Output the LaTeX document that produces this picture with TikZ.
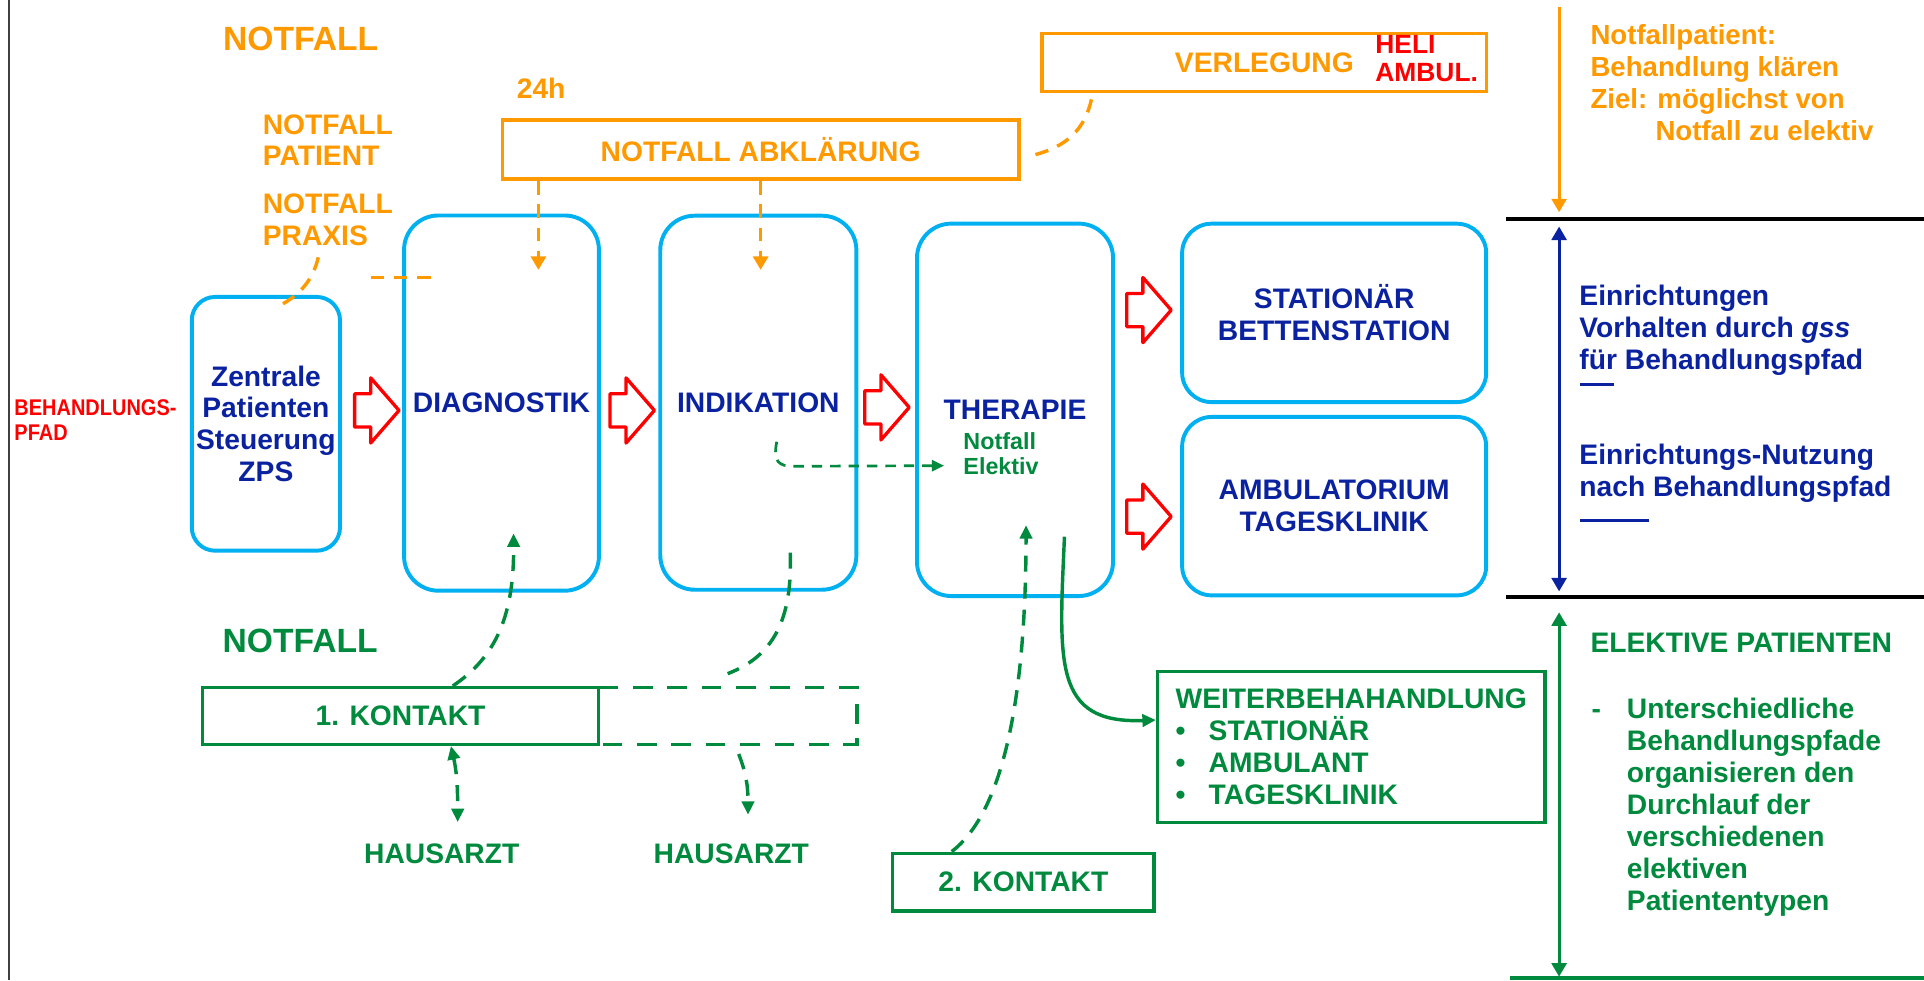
\documentclass[tikz,border=0pt]{standalone}
\usepackage{fontspec}
\setmainfont{Liberation Sans}
\newfontfamily\narrowsf{Liberation Sans}[FakeStretch=0.88]
\usetikzlibrary{shapes.arrows,arrows.meta}
\definecolor{oran}{HTML}{FF9900}
\definecolor{cyanb}{HTML}{00B0F0}
\definecolor{dblue}{HTML}{0A22A0}
\definecolor{grn}{HTML}{008A3E}
\newcommand\ftmain{\bfseries\fontsize{23}{26}\selectfont}
\newcommand\ftbig{\bfseries\fontsize{27.4}{30}\selectfont}
\newcommand\ftsmall{\bfseries\fontsize{19}{21}\selectfont}
\newcommand\fthel{\bfseries\fontsize{21.5}{22.8}\selectfont}
\newcommand\ftbeh{\narrowsf\bfseries\fontsize{18.5}{20}\selectfont}
\newcommand\ftright{\bfseries\fontsize{22.5}{26}\selectfont}
\begin{document}
\begin{tikzpicture}[x=1pt,y=-1pt,
  cbox/.style={draw=cyanb, line width=3.2pt, text=dblue, align=center, inner sep=0pt, font=\ftmain},
  obox/.style={draw=oran, line width=3pt, text=oran, inner sep=0pt, font=\ftmain},
  gbox/.style={draw=grn, line width=2.8pt, text=grn, inner sep=0pt, font=\ftmain},
  txt/.style={inner sep=0pt, font=\ftmain},
  blockarr/.style={single arrow, draw=red, fill=white, line width=2.7pt, inner xsep=0pt, inner ysep=12.2pt,
     single arrow head extend=13pt, single arrow tip angle=98, minimum height=36.2pt, line join=round},
  odash/.style={draw=oran, line width=2.8pt, dash pattern=on 11pt off 8pt},
  gdash/.style={draw=grn, line width=2.8pt, dash pattern=on 13pt off 9pt},
  gdashthin/.style={draw=grn, line width=2.2pt, dash pattern=on 8.5pt off 6.5pt},
  gdashbox/.style={draw=grn, line width=2.8pt, dash pattern=on 16pt off 12pt},
  tipo/.style={-{Triangle[length=11pt,width=12pt]}},
  tipg/.style={-{Triangle[length=11pt,width=10pt]}},
  tipgs/.style={-{Triangle[length=10pt,width=9pt]}},
  tipgg/.style={{Triangle[length=11pt,width=10pt]}-{Triangle[length=11pt,width=10pt]}},
]
\fill[white] (0,0) rectangle (1568,799);
\useasboundingbox (0,0) rectangle (1568,799);

% left border
\coordinate (lb1) at (7.3,0);
\coordinate (lb2) at (7.3,799);
\draw[black!75, line width=1.3pt] (lb1) -- (lb2);

% main boxes
\node[cbox, rounded corners=19pt, minimum width=120.8pt, minimum height=206.8pt] (zps) at (216.7,345.4) {Zentrale\\Patienten\\Steuerung\\ZPS};
\node[cbox, rounded corners=28pt, minimum width=158.8pt, minimum height=305.8pt] (diag) at (408.7,328.5) {DIAGNOSTIK};
\node[cbox, rounded corners=28pt, minimum width=159.8pt, minimum height=304.8pt] (indik) at (618,328.2) {INDIKATION};
\node[cbox, rounded corners=28pt, minimum width=159.8pt, minimum height=303.5pt] (ther) at (827.2,334) {THERAPIE};
\node[cbox, rounded corners=24pt, minimum width=247.8pt, minimum height=145.4pt] (stat) at (1087.3,255) {STATIONÄR\\BETTENSTATION};
\node[cbox, rounded corners=24pt, minimum width=247.8pt, minimum height=145.4pt] (amb) at (1087.3,412.5) {AMBULATORIUM\\TAGESKLINIK};

% red block arrows
\node[blockarr] (ar1) at (301.2,334.5) {};
\node[blockarr] (ar2) at (509.3,334.5) {};
\node[blockarr] (ar3) at (717,332) {};
\node[blockarr] (ar4) at (930.5,252.7) {};
\node[blockarr] (ar5) at (930.5,421) {};

% orange part
\node[txt, text=oran, font=\ftbig] (nfo) at (245,31.5) {NOTFALL};
\node[txt, text=oran] (h24) at (441,72.3) {24h};
\node[txt, text=oran, align=left, anchor=north west] (nfp) at (214,93) {NOTFALL\\PATIENT};
\node[txt, text=oran, align=left, anchor=north west] (nfpr) at (214,157.8) {NOTFALL\\PRAXIS};
\node[obox, minimum width=420.7pt, minimum height=48.1pt] (abkl) at (619.9,122) {NOTFALL ABKLÄRUNG};
\node[obox, minimum width=361.9pt, minimum height=47.2pt] (verl) at (1030.4,50.9) {VERLEGUNG};
\node[txt, text=red, font=\fthel, align=left, anchor=west] (heli) at (1120.7,48) {HELI\\AMBUL.};

\coordinate (o1e) at (438.8,220);
\coordinate (o2e) at (619.9,220);
\draw[odash, tipo] (abkl.south -| o1e) -- (o1e);
\draw[odash, tipo] (abkl.south) -- (o2e);
\coordinate (o3s) at (889.5,81);
\coordinate (o3e) at (839.8,127);
\draw[odash] (o3s) .. controls (884,105) and (870,120) .. (o3e);
\coordinate (o4s) at (259.4,209.7);
\coordinate (o4e) at (227.4,249.4);
\draw[odash] (o4s) .. controls (255,228) and (245,240) .. (o4e);
\coordinate (o5s) at (302,226.3);
\coordinate (o5e) at (353,226.3);
\draw[odash] (o5s) -- (o5e);

% red label
\node[txt, text=red, font=\ftbeh, align=left, anchor=west] (beh) at (11.6,342.5) {BEHANDLUNGS-\\PFAD};

% green part
\node[txt, text=grn, font=\ftbig] (nfg) at (244.6,522) {NOTFALL};
\node[gbox, minimum width=322.9pt, minimum height=46.2pt] (k1) at (326.4,583.5) {1. KONTAKT};
\node[inner sep=0pt, outer sep=0pt, minimum width=210.6pt, minimum height=46.2pt] (k1ext) at (593.1,583.5) {};
\draw[gdashbox] (k1ext.north west) -- (k1ext.north east) -- (k1ext.south east) -- (k1ext.south west);
\node[txt, text=grn] (ha1) at (360,695.6) {HAUSARZT};
\node[txt, text=grn] (ha2) at (596,695.6) {HAUSARZT};
\node[txt, text=grn, font=\ftsmall, align=left, anchor=west] (ne) at (785,369.8) {Notfall\\Elektiv};
\node[gbox, minimum width=315.6pt, minimum height=122.8pt, align=left] (weiter) at (1101.2,608.8)
  {WEITERBEHAHANDLUNG\\\makebox[27pt][l]{\textbullet}STATIONÄR\\\makebox[27pt][l]{\textbullet}AMBULANT\\\makebox[27pt][l]{\textbullet}TAGESKLINIK};
\node[gbox, minimum width=213.2pt, minimum height=47.2pt] (k2) at (834,719) {2. KONTAKT};

\coordinate (g1e) at (418.5,434.7);
\draw[gdash, tipg] ([xshift=42.6pt]k1.north) .. controls (405,535) and (419,500) .. (g1e);
\coordinate (g2s) at (633,360);
\coordinate (g2e) at (769.4,379.5);
\draw[gdashthin, tipgs] (g2s) .. controls (630,376) and (634,380.3) .. (648,380) -- (g2e);
\coordinate (g3s) at (644,450.4);
\coordinate (g3e) at (593,549);
\draw[gdash] (g3s) .. controls (646,505) and (630,535) .. (g3e);
\coordinate (g4e) at (373,670);
\draw[gdash, tipgg] ([xshift=41.1pt]k1.south) .. controls (372,628) and (373,640) .. (g4e);
\coordinate (g5s) at (602,614.5);
\coordinate (g5e) at (609.6,664);
\draw[gdash, tipg] (g5s) .. controls (608,630) and (609.6,640) .. (g5e);
\coordinate (g6e) at (836.2,428);
\draw[gdash, tipg] ([xshift=-58.4pt]k2.north) .. controls (820,660) and (836,560) .. (g6e);
\coordinate (g7s) at (867.5,437.4);
\draw[grn, line width=2.8pt, tipg] (g7s) .. controls (863,540) and (858,590) .. ([yshift=22pt]weiter.west);

% right column
\coordinate (bl1a) at (1227.4,178.5);
\coordinate (bl1b) at (1568,178.5);
\coordinate (bl2a) at (1227.4,486.3);
\coordinate (bl2b) at (1568,486.3);
\coordinate (gl1a) at (1230.7,797);
\coordinate (gl1b) at (1568,797);
\draw[black, line width=3.2pt] (bl1a) -- (bl1b);
\draw[black, line width=3.2pt] (bl2a) -- (bl2b);
\draw[grn, line width=3.2pt] (gl1a) -- (gl1b);

\coordinate (va1) at (1270.6,5.6);
\coordinate (va2) at (1270.6,173);
\coordinate (vb1) at (1270.6,184.6);
\coordinate (vb2) at (1270.6,482);
\coordinate (vc1) at (1270.6,499);
\coordinate (vc2) at (1270.6,796);
\draw[oran, line width=2.6pt, tipo] (va1) -- (va2);
\draw[dblue, line width=2.6pt, {Triangle[length=11pt,width=12pt]}-{Triangle[length=11pt,width=12pt]}] (vb1) -- (vb2);
\draw[grn, line width=2.6pt, {Triangle[length=11pt,width=12pt]}-{Triangle[length=11pt,width=12pt]}] (vc1) -- (vc2);

\node[txt, text=oran, font=\ftright, align=left, anchor=north west] (rto) at (1296,20)
  {Notfallpatient:\\Behandlung klären\\Ziel: möglichst von\\\hspace*{53pt}Notfall zu elektiv};
\node[txt, text=dblue, align=left, anchor=north west] (rtb1) at (1287,232)
  {Einrichtungen\\Vorhalten durch \textit{gss}\\für Behandlungspfad};
\node[txt, text=dblue, align=left, anchor=north west] (rtb2) at (1287,362)
  {Einrichtungs-Nutzung\\nach Behandlungspfad};
\coordinate (u1a) at (1288,313.5);
\coordinate (u1b) at (1315.5,313.5);
\coordinate (u2a) at (1288,424);
\coordinate (u2b) at (1344,424);
\draw[dblue, line width=2.6pt] (u1a) -- (u1b);
\draw[dblue, line width=2.6pt] (u2a) -- (u2b);
\node[txt, text=grn, anchor=west] (elk) at (1296,523.6) {ELEKTIVE PATIENTEN};
\node[txt, text=grn, anchor=base west] (edash) at (1297,585.5) {-};
\node[txt, text=grn, align=left, anchor=north west] (elist) at (1325.7,569)
  {Unterschiedliche\\Behandlungspfade\\organisieren den\\Durchlauf der\\verschiedenen\\elektiven\\Patiententypen};
\end{tikzpicture}
\end{document}
